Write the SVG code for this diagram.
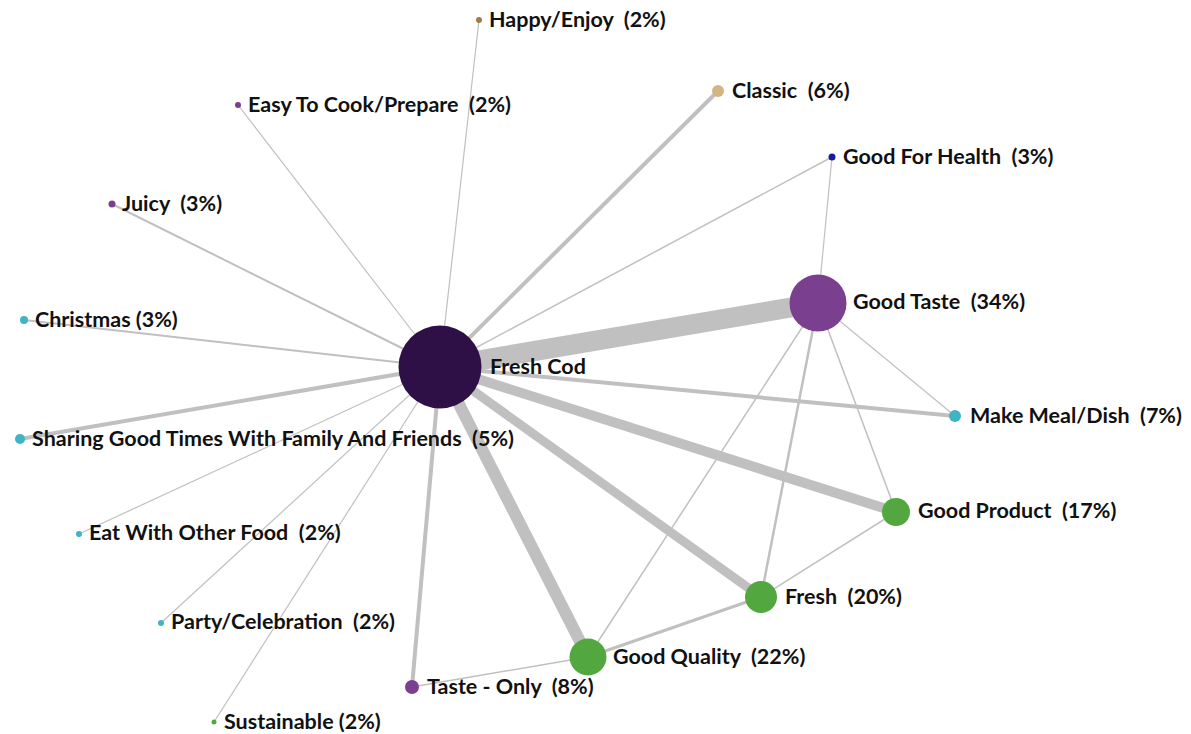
<svg xmlns="http://www.w3.org/2000/svg" width="1191" height="734" viewBox="0 0 1191 734">
<style>
text{font-family:Lato,"Open Sans","Liberation Sans",sans-serif;font-weight:bold;font-size:21.5px;fill:#111;white-space:pre}
.e{stroke:#c0c0c0;fill:none;stroke-linecap:butt}
</style>
<rect width="1191" height="734" fill="#fff"/>
<g id="connectors">
<line class="e" x1="440" y1="367" x2="818" y2="303" stroke-width="20"/>
<line class="e" x1="440" y1="367" x2="896" y2="512" stroke-width="10"/>
<line class="e" x1="440" y1="367" x2="761" y2="597" stroke-width="9"/>
<line class="e" x1="440" y1="367" x2="588" y2="657" stroke-width="12"/>
<line class="e" x1="440" y1="367" x2="955" y2="416" stroke-width="4"/>
<line class="e" x1="440" y1="367" x2="412" y2="687" stroke-width="4"/>
<line class="e" x1="440" y1="367" x2="718" y2="91" stroke-width="4"/>
<line class="e" x1="440" y1="367" x2="20" y2="439" stroke-width="4"/>
<line class="e" x1="440" y1="367" x2="24" y2="320" stroke-width="2"/>
<line class="e" x1="440" y1="367" x2="112" y2="204" stroke-width="2"/>
<line class="e" x1="440" y1="367" x2="832" y2="157" stroke-width="1.5"/>
<line class="e" x1="440" y1="367" x2="238" y2="105" stroke-width="1.2"/>
<line class="e" x1="440" y1="367" x2="479" y2="20" stroke-width="1.2"/>
<line class="e" x1="440" y1="367" x2="79" y2="534" stroke-width="1.2"/>
<line class="e" x1="440" y1="367" x2="161" y2="623" stroke-width="1.2"/>
<line class="e" x1="440" y1="367" x2="214" y2="722" stroke-width="1.2"/>
<line class="e" x1="818" y1="303" x2="832" y2="157" stroke-width="1.2"/>
<line class="e" x1="818" y1="303" x2="955" y2="416" stroke-width="1.2"/>
<line class="e" x1="818" y1="303" x2="896" y2="512" stroke-width="1.5"/>
<line class="e" x1="818" y1="303" x2="761" y2="597" stroke-width="2.5"/>
<line class="e" x1="818" y1="303" x2="588" y2="657" stroke-width="1.5"/>
<line class="e" x1="896" y1="512" x2="761" y2="597" stroke-width="1.5"/>
<line class="e" x1="761" y1="597" x2="588" y2="657" stroke-width="3"/>
<line class="e" x1="588" y1="657" x2="412" y2="687" stroke-width="1.5"/>
</g>
<g id="n-fresh-cod"><circle cx="440" cy="367" r="41.5" fill="#2e1046"/><text x="490" y="374">Fresh Cod</text></g>
<g id="n-good-taste"><circle cx="818" cy="303" r="28.5" fill="#7b3f8f"/><text x="853" y="309">Good Taste  (34%)</text></g>
<g id="n-make-meal"><circle cx="955" cy="416" r="6" fill="#40b4c4"/><text x="970" y="423">Make Meal/Dish  (7%)</text></g>
<g id="n-good-product"><circle cx="896" cy="512" r="14" fill="#52a83e"/><text x="918" y="518">Good Product  (17%)</text></g>
<g id="n-fresh"><circle cx="761" cy="597" r="16" fill="#52a83e"/><text x="785" y="604">Fresh  (20%)</text></g>
<g id="n-good-quality"><circle cx="588" cy="657" r="18.5" fill="#52a83e"/><text x="613" y="664">Good Quality  (22%)</text></g>
<g id="n-taste-only"><circle cx="412" cy="687" r="7" fill="#7b3f8f"/><text x="427" y="694">Taste - Only  (8%)</text></g>
<g id="n-sustainable"><circle cx="214" cy="722" r="2.5" fill="#52a83e"/><text x="224" y="729">Sustainable (2%)</text></g>
<g id="n-party"><circle cx="161" cy="623" r="3" fill="#40b4c4"/><text x="171" y="629">Party/Celebration  (2%)</text></g>
<g id="n-eat-with"><circle cx="79" cy="534" r="3" fill="#40b4c4"/><text x="89" y="540">Eat With Other Food  (2%)</text></g>
<g id="n-sharing"><circle cx="20" cy="439" r="5" fill="#40b4c4"/><text x="32" y="446">Sharing Good Times With Family And Friends  (5%)</text></g>
<g id="n-christmas"><circle cx="24" cy="320" r="4" fill="#40b4c4"/><text x="35" y="327">Christmas (3%)</text></g>
<g id="n-juicy"><circle cx="112" cy="204" r="3.5" fill="#7b3f8f"/><text x="122" y="211">Juicy  (3%)</text></g>
<g id="n-easy"><circle cx="238" cy="105" r="3" fill="#7b3f8f"/><text x="248" y="112">Easy To Cook/Prepare  (2%)</text></g>
<g id="n-happy"><circle cx="479" cy="20" r="3" fill="#a07c4a"/><text x="489" y="27">Happy/Enjoy  (2%)</text></g>
<g id="n-classic"><circle cx="718" cy="91" r="6" fill="#d4b483"/><text x="732" y="98">Classic  (6%)</text></g>
<g id="n-good-health"><circle cx="832" cy="157" r="3.5" fill="#1a1aa0"/><text x="843" y="164">Good For Health  (3%)</text></g>
</svg>
